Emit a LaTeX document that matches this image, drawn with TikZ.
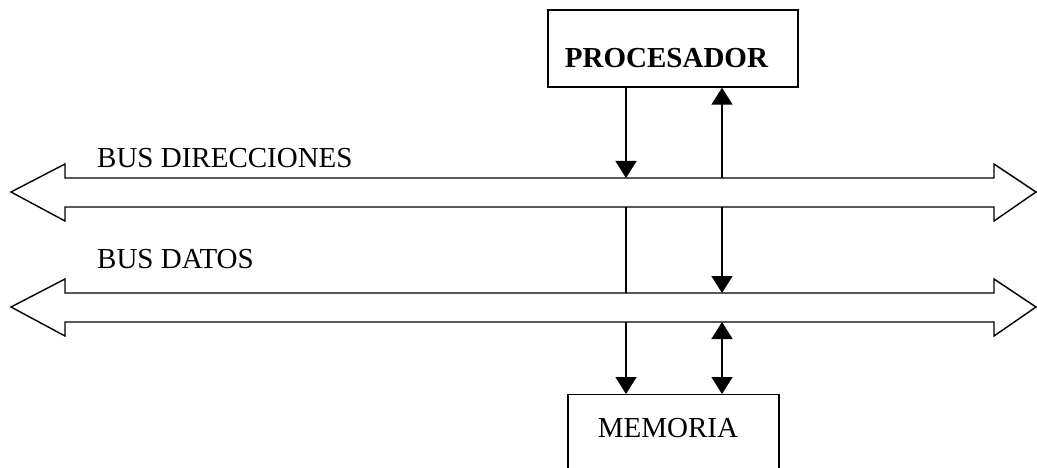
\documentclass[tikz,border=0pt]{standalone}
\usepackage{fontspec}
\setmainfont{Liberation Serif}
\usetikzlibrary{arrows.meta}
\begin{document}
\begin{tikzpicture}[x=1pt,y=-1pt,
  line/.style={line width=1.4pt, line join=miter},
  box/.style={draw, line width=1.4pt, inner sep=0pt},
  lbl/.style={font=\fontsize{29}{33}\selectfont, anchor=base west, inner sep=0pt},
  conn/.style={line width=1.4pt, -{Triangle[width=21pt,length=17pt]}},
  bconn/.style={line width=1.4pt, {Triangle[width=21pt,length=17pt]}-{Triangle[width=21pt,length=17pt]}},
  plain/.style={line width=1.4pt}]
\clip (0,0) rectangle (1037,468);
\fill[white] (0,0) rectangle (1037,468);
% processor
\node[box, minimum width=250pt, minimum height=77pt] (proc) at (673,48.5) {};
\node[font=\fontsize{29}{33}\selectfont\bfseries, anchor=base, inner sep=0pt] (proctext) at (666.5,68) {PROCESADOR};
% memory (extends beyond the bottom edge)
\node[box, minimum width=211pt, minimum height=100pt, anchor=north] (mem) at (673.5,394) {};
\node[font=\fontsize{29}{33}\selectfont, anchor=base, inner sep=0pt] (memtext) at (668,437) {MEMORIA};
% buses
\draw[line] (11,192) -- (65,164) -- (65,178) -- (994,178) -- (994,164) -- (1036,192)
  -- (994,221) -- (994,207) -- (65,207) -- (65,221) -- cycle;
\draw[line] (11,307) -- (65,279) -- (65,293) -- (994,293) -- (994,279) -- (1036,307)
  -- (994,336) -- (994,322) -- (65,322) -- (65,336) -- cycle;
\node[lbl] (ldir) at (97,168) {BUS DIRECCIONES};
\node[lbl] (ldat) at (97,269) {BUS DATOS};
% bus attach points
\coordinate (a1t) at (626,178); \coordinate (b1t) at (722,178);
\coordinate (a1b) at (626,207); \coordinate (b1b) at (722,207);
\coordinate (a2t) at (626,293); \coordinate (b2t) at (722,293);
\coordinate (a2b) at (626,322); \coordinate (b2b) at (722,322);
% connectors
\draw[conn] (proc.south -| a1t) -- (a1t);
\draw[conn] (b1t) -- (proc.south -| b1t);
\draw[plain] (a1b) -- (a2t);
\draw[conn] (b1b) -- (b2t);
\draw[conn] (a2b) -- (mem.north -| a2b);
\draw[bconn] (b2b) -- (mem.north -| b2b);
\end{tikzpicture}
\end{document}
